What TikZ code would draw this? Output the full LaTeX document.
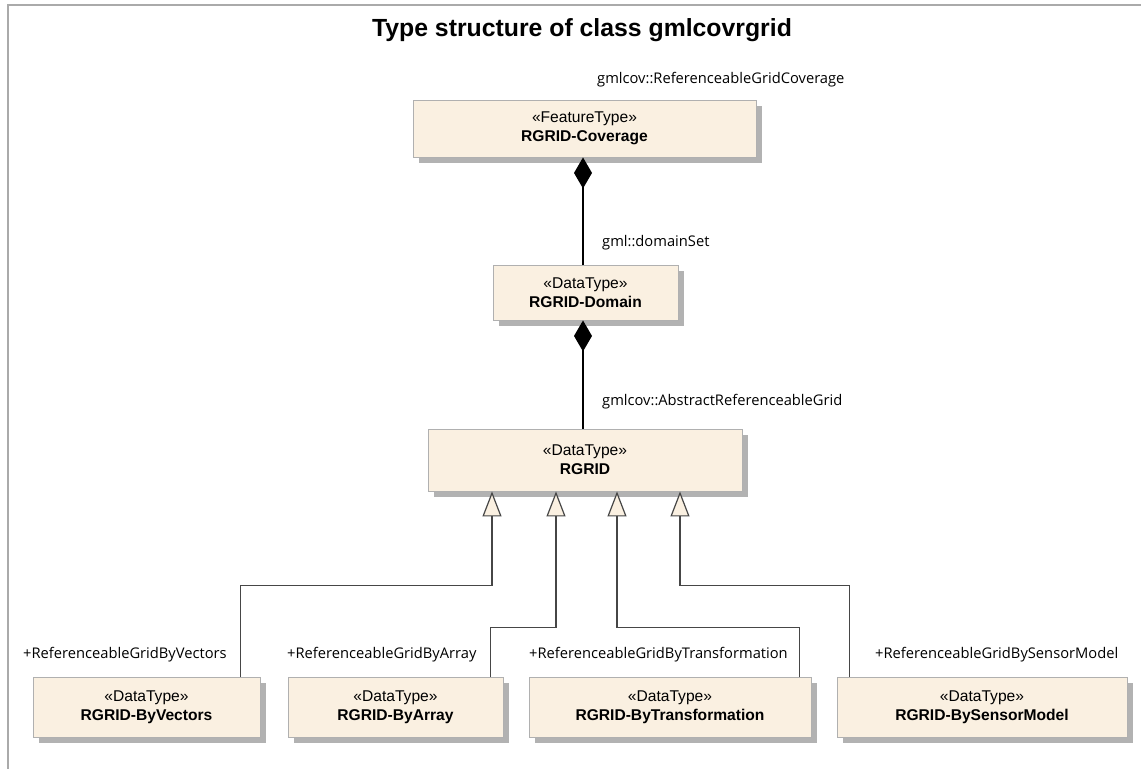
\documentclass[tikz,border=0pt]{standalone}
\usepackage{fontspec}
\setmainfont{Liberation Sans}
\newfontfamily\lblfont{Open Sans}
\usetikzlibrary{arrows.meta,shadows}
\definecolor{cream}{RGB}{250,240,225}
\definecolor{boxline}{RGB}{176,176,176}
\definecolor{shadowgray}{RGB}{178,178,178}
\definecolor{framegray}{RGB}{170,170,170}
\definecolor{genline}{RGB}{70,70,70}
\begin{document}
\begin{tikzpicture}[x=1pt,y=-1pt,
  umlbox/.style={draw=boxline, line width=0.9pt, fill=cream, align=center,
    inner sep=0pt, font=\fontsize{15.6}{19}\selectfont,
    drop shadow={shadow xshift=5.5pt, shadow yshift=-5.5pt, fill=shadowgray, opacity=1}},
  lbl/.style={anchor=west, inner sep=0pt, font=\lblfont\fontsize{14.7}{17}\selectfont},
  comp/.style={draw=black, line width=1.3pt, -{Diamond[length=31pt,width=18pt,fill=black]}},
  gen/.style={draw=genline, line width=1.2pt, -{Triangle[open, length=25pt, width=19pt, fill=cream, line width=1.2pt]}}
]
\useasboundingbox (0,0) rectangle (1141,769);
\draw[framegray, line width=1.3pt] (1141,5) -- (8,5) -- (8,769);
\node[font=\bfseries\fontsize{24.8}{28}\selectfont] (title) at (582,30) {Type structure of class gmlcovrgrid};

\node[umlbox, minimum width=343pt, minimum height=57pt] (cov) at (584.5,128.5) {«FeatureType»\\\textbf{RGRID-Coverage}};
\node[umlbox, minimum width=185pt, minimum height=55pt] (dom) at (585.5,292.5) {«DataType»\\\textbf{RGRID-Domain}};
\node[umlbox, minimum width=314pt, minimum height=62pt] (rgrid) at (585,460) {«DataType»\\\textbf{RGRID}};
\node[umlbox, minimum width=227pt, minimum height=60pt] (vec) at (146.5,707) {«DataType»\\\textbf{RGRID-ByVectors}};
\node[umlbox, minimum width=215pt, minimum height=60pt] (arr) at (395.5,707) {«DataType»\\\textbf{RGRID-ByArray}};
\node[umlbox, minimum width=282pt, minimum height=60pt] (tra) at (670,707) {«DataType»\\\textbf{RGRID-ByTransformation}};
\node[umlbox, minimum width=290pt, minimum height=60pt] (sen) at (982,707) {«DataType»\\\textbf{RGRID-BySensorModel}};

\coordinate (cx) at (583,0);
\draw[comp] (cx |- dom.north) -- (cx |- cov.south);
\draw[comp] (cx |- rgrid.north) -- (cx |- dom.south);

\draw[gen] ([xshift=-20pt]vec.north east) -- ++(0,-91) -| ([xshift=-93pt]rgrid.south);
\draw[gen] ([xshift=-13pt]arr.north east) -- ++(0,-49) -| ([xshift=-29pt]rgrid.south);
\draw[gen] ([xshift=-12pt]tra.north east) -- ++(0,-49) -| ([xshift=32pt]rgrid.south);
\draw[gen] ([xshift=13pt]sen.north west) -- ++(0,-91) -| ([xshift=95pt]rgrid.south);

\node[lbl] (l1) at (597,80) {gmlcov::ReferenceableGridCoverage};
\node[lbl] (l2) at (602,243) {gml::domainSet};
\node[lbl] (l3) at (602,402) {gmlcov::AbstractReferenceableGrid};
\node[lbl] (l4) at (23,655) {+ReferenceableGridByVectors};
\node[lbl] (l5) at (287,655) {+ReferenceableGridByArray};
\node[lbl] (l6) at (529,655) {+ReferenceableGridByTransformation};
\node[lbl] (l7) at (875,655) {+ReferenceableGridBySensorModel};
\end{tikzpicture}
\end{document}
